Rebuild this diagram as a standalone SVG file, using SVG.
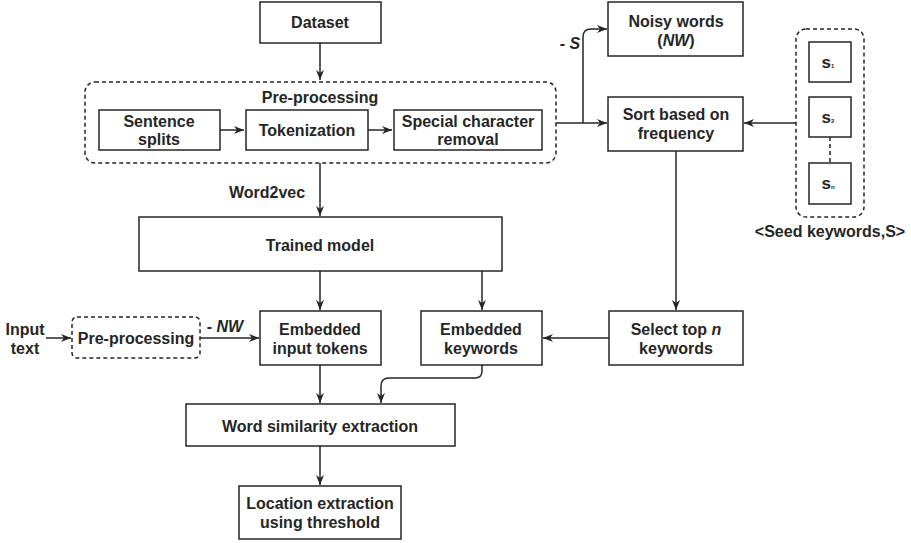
<svg xmlns="http://www.w3.org/2000/svg" width="911" height="543" viewBox="0 0 911 543">
<style>
.b{fill:#fff;stroke:#262626;stroke-width:1.5}
.d{fill:#fff;stroke:#262626;stroke-width:1.5;stroke-dasharray:4 3}
.c{fill:none;stroke:#262626;stroke-width:1.5}
text{font-family:"Liberation Sans",Arial,sans-serif;font-weight:bold;font-size:16px;fill:#262626;text-anchor:middle}
.i{font-style:italic}
.s{font-size:17px}
.sub{font-size:6px}
</style>
<defs>
<marker id="a" viewBox="0 0 10 8" refX="10" refY="4" markerWidth="10" markerHeight="8" markerUnits="userSpaceOnUse" orient="auto">
<path d="M0,0 L10,4 L0,8 L3,4 z" fill="#262626"/>
</marker>
</defs>
<g id="preproc-group">
<rect class="d" x="85" y="82" width="471" height="81" rx="10"/>
<text x="320" y="103">Pre-processing</text>
</g>
<g id="seed-group">
<rect class="d" x="796" y="29" width="68" height="188" rx="10"/>
<text x="830" y="237">&lt;Seed keywords,S&gt;</text>
</g>
<g id="edges">
<path class="c" d="M320,43 V80" marker-end="url(#a)"/>
<path class="c" d="M220,130 H244" marker-end="url(#a)"/>
<path class="c" d="M368,130 H392" marker-end="url(#a)"/>
<path class="c" d="M556,123 H607" marker-end="url(#a)"/>
<path class="c" d="M583,123 V37 Q583,29 591,29 H607" marker-end="url(#a)"/>
<path class="c" d="M796,123 H744" marker-end="url(#a)"/>
<path class="c" d="M830,137 V163" stroke-dasharray="4 3"/>
<path class="c" d="M320,163 V216" marker-end="url(#a)"/>
<path class="c" d="M320,271 V310" marker-end="url(#a)"/>
<path class="c" d="M482,271 V310" marker-end="url(#a)"/>
<path class="c" d="M676,151 V310" marker-end="url(#a)"/>
<path class="c" d="M609,338 H543" marker-end="url(#a)"/>
<path class="c" d="M46,338 H71" marker-end="url(#a)"/>
<path class="c" d="M200,338 H259" marker-end="url(#a)"/>
<path class="c" d="M320,365 V403" marker-end="url(#a)"/>
<path class="c" d="M482,365 V371 Q482,378 475,378 H389 Q381,378 381,386 V403" marker-end="url(#a)"/>
<path class="c" d="M320,446 V485" marker-end="url(#a)"/>
<text x="570" y="49" class="i">- S</text>
<text x="267" y="198">Word2vec</text>
<text x="225" y="332"><tspan>- </tspan><tspan class="i">NW</tspan></text>
</g>
<g id="dataset"><rect class="b" x="260" y="2" width="121" height="41"/><text x="320" y="28">Dataset</text></g>
<g id="sentence-splits"><rect class="b" x="99" y="110" width="121" height="40"/><text x="159" y="127">Sentence</text><text x="159" y="145">splits</text></g>
<g id="tokenization"><rect class="b" x="246" y="110" width="122" height="40"/><text x="307" y="136">Tokenization</text></g>
<g id="special-char"><rect class="b" x="394" y="110" width="148" height="40"/><text x="468" y="127">Special character</text><text x="468" y="145">removal</text></g>
<g id="noisy-words"><rect class="b" x="608" y="2" width="135" height="54"/><text x="676" y="27">Noisy words</text><text x="676" y="46">(<tspan class="i">NW</tspan>)</text></g>
<g id="sort"><rect class="b" x="608" y="97" width="135" height="54"/><text x="676" y="120">Sort based on</text><text x="676" y="139">frequency</text></g>
<g id="s1"><rect class="b" x="809" y="42" width="42" height="40"/><text class="s" x="828" y="68">s<tspan class="sub">1</tspan></text></g>
<g id="s2"><rect class="b" x="809" y="97" width="42" height="40"/><text class="s" x="828" y="123">s<tspan class="sub">2</tspan></text></g>
<g id="sn"><rect class="b" x="809" y="163" width="42" height="41"/><text class="s" x="828" y="189">s<tspan class="sub">n</tspan></text></g>
<g id="trained-model"><rect class="b" x="139" y="217" width="363" height="54"/><text x="320" y="251">Trained model</text></g>
<g id="input-text"><text x="25" y="335">Input</text><text x="25" y="354">text</text></g>
<g id="preproc-small"><rect class="d" x="72" y="317" width="128" height="41" rx="5"/><text x="136" y="344">Pre-processing</text></g>
<g id="embedded-input"><rect class="b" x="260" y="311" width="121" height="54"/><text x="320" y="335">Embedded</text><text x="320" y="354">input tokens</text></g>
<g id="embedded-keywords"><rect class="b" x="421" y="311" width="121" height="54"/><text x="481" y="335">Embedded</text><text x="481" y="354">keywords</text></g>
<g id="select-top"><rect class="b" x="609" y="311" width="134" height="54"/><text x="676" y="335">Select top <tspan class="i">n</tspan></text><text x="676" y="354">keywords</text></g>
<g id="word-sim"><rect class="b" x="186" y="404" width="269" height="42"/><text x="320" y="432">Word similarity extraction</text></g>
<g id="location"><rect class="b" x="239" y="486" width="162" height="53"/><text x="320" y="509">Location extraction</text><text x="320" y="528">using threshold</text></g>
</svg>
